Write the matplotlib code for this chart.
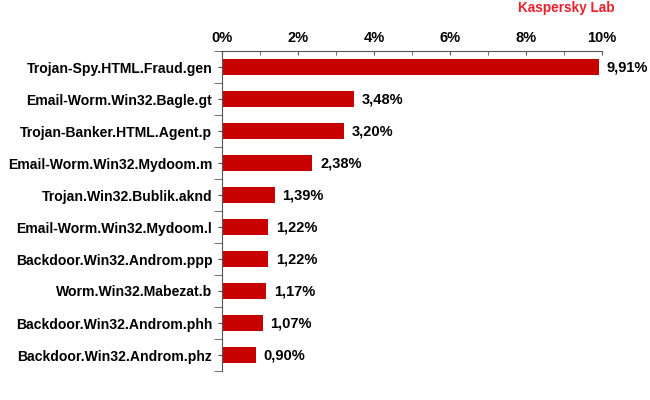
import matplotlib
matplotlib.use("Agg")
import matplotlib.pyplot as plt
from matplotlib.ticker import MultipleLocator, FuncFormatter
from matplotlib.transforms import offset_copy

names = ["Trojan-Spy.HTML.Fraud.gen", "Email-Worm.Win32.Bagle.gt",
         "Trojan-Banker.HTML.Agent.p", "Email-Worm.Win32.Mydoom.m",
         "Trojan.Win32.Bublik.aknd", "Email-Worm.Win32.Mydoom.l",
         "Backdoor.Win32.Androm.ppp", "Worm.Win32.Mabezat.b",
         "Backdoor.Win32.Androm.phh", "Backdoor.Win32.Androm.phz"]
values = [9.91, 3.48, 3.20, 2.38, 1.39, 1.22, 1.22, 1.17, 1.07, 0.90]
value_labels = ["9,91%", "3,48%", "3,20%", "2,38%", "1,39%", "1,22%",
                "1,22%", "1,17%", "1,07%", "0,90%"]

plt.rcParams['font.family'] = ['Liberation Sans', 'DejaVu Sans']

fig = plt.figure(figsize=(6.5, 4.0), dpi=100)
ax = fig.add_axes([222/650, 1-371/400, (602-222)/650, (371-51)/400])

n = len(names)
ys = list(range(n))
ax.barh(ys, values, height=0.5, color="#C80000", edgecolor="none")
trans = offset_copy(ax.transData, fig=fig, x=5.5, y=0, units="points")
for y, v, lab in zip(ys, values, value_labels):
    ax.text(v, y, lab, va="center", ha="left", fontsize=10.5,
            fontweight="bold", color="black", transform=trans)

ax.set_xlim(0, 10)
ax.set_ylim(n - 0.5, -0.5)
ax.xaxis.tick_top()
ax.xaxis.set_major_locator(MultipleLocator(2))
ax.xaxis.set_minor_locator(MultipleLocator(1))
ax.xaxis.set_major_formatter(FuncFormatter(lambda x, p: f"{int(round(x))}%"))
ax.tick_params(axis="x", which="both", direction="in", length=3, color="#555555",
               labelsize=10.5, pad=4)
for t in ax.get_xticklabels():
    t.set_fontweight("bold")

ax.set_yticks(ys)
ax.set_yticklabels(names, fontsize=10.1, fontweight="bold")
ax.set_yticks([i - 0.5 for i in range(n + 1)], minor=True)
ax.tick_params(axis="y", which="major", direction="out", length=3, color="#555555", pad=4)
ax.tick_params(axis="y", which="minor", direction="out", length=6, color="#555555")

for s in ["right", "bottom"]:
    ax.spines[s].set_visible(False)
ax.spines["top"].set_color("#555555")
ax.spines["left"].set_color("#555555")

fig.text(566/650, 1-8/400, "Kaspersky Lab", color="#E8212B", fontsize=9.8,
         fontweight="bold", ha="center", va="center")

fig.savefig("out.png", dpi=100, facecolor="white")
